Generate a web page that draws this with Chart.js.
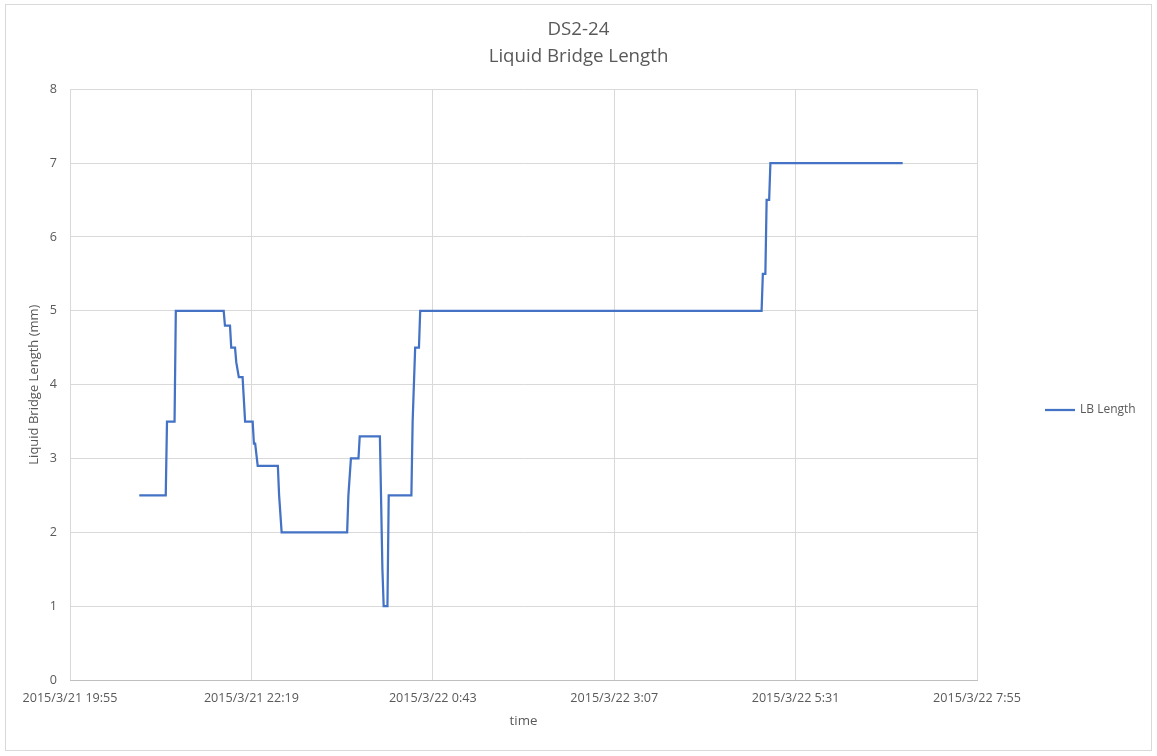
<!DOCTYPE html>
<html>
<head>
<meta charset="utf-8">
<title>DS2-24 Liquid Bridge Length</title>
<script src="https://cdn.jsdelivr.net/npm/chart.js@4.4.1/dist/chart.umd.min.js"></script>
<style>
  html, body { margin: 0; padding: 0; background: #fff; }
  #wrap { position: relative; width: 1157px; height: 756px; }
  #frame {
    position: absolute; left: 5px; top: 4px; width: 1145px; height: 745px;
    border: 1px solid #d9d9d9; pointer-events: none;
  }
</style>
</head>
<body>
<div id="wrap">
  <canvas id="chart" width="1157" height="756"></canvas>
  <div id="frame"></div>
</div>
<script>
// start of the x axis, ticks every 144 minutes
const START = '2015/3/21 19:55';
const TICK_STEP = 144;
const X_MAX = 720;

// sample times (corners of the trace) and LB length in mm
const times = [
  '2015/3/21 20:50', '2015/3/21 21:11', '2015/3/21 21:12', '2015/3/21 21:18',
  '2015/3/21 21:19', '2015/3/21 21:57', '2015/3/21 21:58', '2015/3/21 22:02',
  '2015/3/21 22:03', '2015/3/21 22:06', '2015/3/21 22:07', '2015/3/21 22:09',
  '2015/3/21 22:12', '2015/3/21 22:14', '2015/3/21 22:20', '2015/3/21 22:21',
  '2015/3/21 22:22', '2015/3/21 22:24', '2015/3/21 22:40', '2015/3/21 22:41',
  '2015/3/21 22:43', '2015/3/21 23:35', '2015/3/21 23:36', '2015/3/21 23:38',
  '2015/3/21 23:44', '2015/3/21 23:45', '2015/3/22 0:01', '2015/3/22 0:03',
  '2015/3/22 0:04', '2015/3/22 0:07', '2015/3/22 0:08', '2015/3/22 0:26',
  '2015/3/22 0:27', '2015/3/22 0:29', '2015/3/22 0:32', '2015/3/22 0:33',
  '2015/3/22 5:04', '2015/3/22 5:05', '2015/3/22 5:07', '2015/3/22 5:08',
  '2015/3/22 5:10', '2015/3/22 5:11', '2015/3/22 6:56',
];
const lbLength = [
  2.5, 2.5, 3.5, 3.5,
  5.0, 5.0, 4.8, 4.8,
  4.5, 4.5, 4.3, 4.1,
  4.1, 3.5, 3.5, 3.2,
  3.2, 2.9, 2.9, 2.5,
  2.0, 2.0, 2.5, 3.0,
  3.0, 3.3, 3.3, 1.5,
  1.0, 1.0, 2.5, 2.5,
  3.5, 4.5, 4.5, 5.0,
  5.0, 5.5, 5.5, 6.5,
  6.5, 7.0, 7.0,
];

function parseStamp(s) {
  const [d, t] = s.split(' ');
  const [y, m, day] = d.split('/').map(Number);
  const [h, min] = t.split(':').map(Number);
  return Date.UTC(y, m - 1, day, h, min);
}

const t0 = parseStamp(START);
const toMinutes = (s) => (parseStamp(s) - t0) / 60000;

function fmtTick(minutes) {
  const d = new Date(t0 + minutes * 60000);
  const mm = String(d.getUTCMinutes()).padStart(2, '0');
  return `${d.getUTCFullYear()}/${d.getUTCMonth() + 1}/${d.getUTCDate()} ${d.getUTCHours()}:${mm}`;
}

const points = times.map((t, i) => ({ x: toMinutes(t), y: lbLength[i] }));

const TEXT = '#595959';
const GRID = '#d9d9d9';
const BLUE = '#4472c4';

Chart.defaults.font.family = '"Open Sans", "Liberation Sans", sans-serif';
Chart.defaults.color = TEXT;

// legend drawn to the right of the plot, where Excel puts it
const sideLegend = {
  id: 'sideLegend',
  afterDraw(chart) {
    const ds = chart.data.datasets[0];
    const { ctx } = chart;
    const y = 410;
    ctx.save();
    ctx.strokeStyle = ds.borderColor;
    ctx.lineWidth = ds.borderWidth;
    ctx.beginPath();
    ctx.moveTo(1045, y);
    ctx.lineTo(1075, y);
    ctx.stroke();
    ctx.fillStyle = TEXT;
    ctx.font = '12px ' + Chart.defaults.font.family;
    ctx.textBaseline = 'middle';
    ctx.fillText(ds.label, 1080, y);
    ctx.restore();
  },
};

new Chart(document.getElementById('chart'), {
  type: 'line',
  data: {
    datasets: [
      {
        label: 'LB Length',
        data: points,
        borderColor: BLUE,
        borderWidth: 2.25,
        pointRadius: 0,
        tension: 0,
        fill: false,
      },
    ],
  },
  options: {
    responsive: false,
    animation: false,
    layout: { padding: { left: 0, right: 0, top: 0, bottom: 27 } },
    plugins: {
      legend: { display: false },
      tooltip: { enabled: false },
      title: {
        display: true,
        text: ['DS2-24', 'Liquid Bridge Length'],
        color: TEXT,
        font: { size: 18.7, weight: 'normal', lineHeight: 1.45 },
        padding: { top: 16.5, bottom: 18.5 },
      },
    },
    scales: {
      x: {
        type: 'linear',
        min: 0,
        max: X_MAX,
        afterFit: (s) => { s.height = 49; },
        ticks: {
          stepSize: TICK_STEP,
          padding: 11,
          maxRotation: 0,
          autoSkip: false,
          font: { size: 12.6 },
          callback: (v) => fmtTick(v),
        },
        grid: { color: GRID, lineWidth: 1, drawTicks: false },
        border: { color: '#bfbfbf', width: 1 },
        title: {
          display: true,
          text: 'time',
          font: { size: 13.3 },
          padding: { top: 0, bottom: 0 },
        },
      },
      y: {
        min: 0,
        max: 8,
        afterFit: (s) => { s.width = 70; },
        ticks: { stepSize: 1, padding: 13, font: { size: 12.6 } },
        grid: { color: GRID, lineWidth: 1, drawTicks: false },
        border: { display: false },
        title: {
          display: true,
          text: 'Liquid Bridge Length (mm)',
          font: { size: 13 },
          padding: { top: 26, bottom: 0 },
        },
      },
      // empty axis that only reserves the room on the right for the legend
      side: {
        position: 'right',
        display: true,
        afterFit: (s) => { s.width = 180; },
        ticks: { display: false },
        grid: { display: false, drawTicks: false },
        border: { display: false },
      },
    },
  },
  plugins: [sideLegend],
});
</script>
</body>
</html>
